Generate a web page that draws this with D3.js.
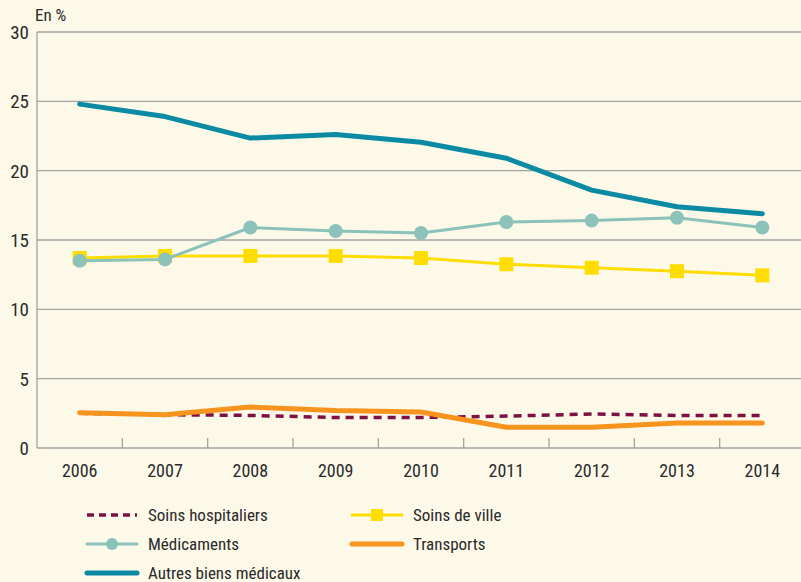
<!DOCTYPE html>
<html>
<head>
  <meta charset="utf-8">
  <script src="https://d3js.org/d3.v7.min.js"></script>
  <style>
    body { margin: 0; background: #fdf9e9; }
    svg { display: block; font-family: "Liberation Sans Narrow", "Roboto Condensed", "Liberation Sans", sans-serif; }
    .grid line { stroke: #a3a3a0; stroke-width: 1.3; }
  </style>
</head>
<body>
<script>
  var years = ["2006", "2007", "2008", "2009", "2010", "2011", "2012", "2013", "2014"];
  var yTicks = [0, 5, 10, 15, 20, 25, 30];

  var soinsHospitaliers = [2.5, 2.4, 2.35, 2.2, 2.2, 2.3, 2.45, 2.35, 2.35];
  var transports = [2.55, 2.4, 2.95, 2.7, 2.6, 1.5, 1.5, 1.8, 1.8];
  var soinsDeVille = [13.7, 13.85, 13.85, 13.85, 13.7, 13.25, 13.0, 12.75, 12.45];
  var medicaments = [13.5, 13.6, 15.9, 15.65, 15.5, 16.3, 16.4, 16.6, 15.9];
  var autresBiens = [24.8, 23.9, 22.35, 22.6, 22.05, 20.9, 18.6, 17.4, 16.9];

  var series = [
    { name: "Soins hospitaliers", values: soinsHospitaliers, color: "#7d1142", width: 3.5, dash: "8,6" },
    { name: "Transports", values: transports, color: "#f7941e", width: 5 },
    { name: "Soins de ville", values: soinsDeVille, color: "#ffdd00", width: 3, marker: "square" },
    { name: "Médicaments", values: medicaments, color: "#8bc2b9", width: 3, marker: "circle" },
    { name: "Autres biens médicaux", values: autresBiens, color: "#0b8aa3", width: 5 }
  ];

  function draw() {
    "use strict";
    var W = 801, H = 582;
    var plotLeft = 37, plotRight = 805, plotTop = 32, plotBottom = 448;
    var textColor = "#2a2a2a";

    var svg = d3.select("body").append("svg")
        .attr("width", W)
        .attr("height", H);

    var x = d3.scaleBand().domain(years).range([plotLeft, plotRight]);
    var y = d3.scaleLinear().domain([0, 30]).range([plotBottom, plotTop]);
    var cx = function (i) { return x(years[i]) + x.bandwidth() / 2; };

    // horizontal grid
    svg.append("g").attr("class", "grid")
      .selectAll("line")
      .data(yTicks)
      .enter().append("line")
        .attr("x1", plotLeft).attr("x2", W)
        .attr("y1", function (d) { return y(d); })
        .attr("y2", function (d) { return y(d); });

    // left axis line
    svg.append("line")
        .attr("x1", plotLeft).attr("x2", plotLeft)
        .attr("y1", plotTop).attr("y2", plotBottom)
        .style("stroke", "#a3a3a0").style("stroke-width", 1.3);

    // y labels
    svg.selectAll("text.ylab")
      .data(yTicks)
      .enter().append("text")
        .attr("class", "ylab")
        .attr("x", 29)
        .attr("y", function (d) { return y(d) + 7; })
        .attr("text-anchor", "end")
        .style("font-size", "19px")
        .style("fill", textColor)
        .text(function (d) { return d; });

    svg.append("text")
        .attr("x", 35).attr("y", 21)
        .style("font-size", "17px")
        .style("fill", textColor)
        .text("En %");

    // x ticks between categories
    svg.selectAll("line.xtick")
      .data(years.slice(1))
      .enter().append("line")
        .attr("class", "xtick")
        .attr("x1", function (d) { return x(d); })
        .attr("x2", function (d) { return x(d); })
        .attr("y1", plotBottom - 10).attr("y2", plotBottom)
        .style("stroke", "#a3a3a0").style("stroke-width", 1.3);

    svg.selectAll("text.xlab")
      .data(years)
      .enter().append("text")
        .attr("class", "xlab")
        .attr("x", function (d, i) { return cx(i); })
        .attr("y", 477)
        .attr("text-anchor", "middle")
        .style("font-size", "18px")
        .style("fill", textColor)
        .text(function (d) { return d; });

    var line = d3.line()
        .x(function (d, i) { return cx(i); })
        .y(function (d) { return y(d); });

    series.forEach(function (s) {
      svg.append("path")
          .attr("d", line(s.values))
          .style("fill", "none")
          .style("stroke", s.color)
          .style("stroke-width", s.width)
          .style("stroke-linecap", s.dash ? "butt" : "round")
          .style("stroke-linejoin", "round")
          .style("stroke-dasharray", s.dash || null);

      if (s.marker === "circle") {
        svg.selectAll(null)
          .data(s.values)
          .enter().append("circle")
            .attr("cx", function (d, i) { return cx(i); })
            .attr("cy", function (d) { return y(d); })
            .attr("r", 7)
            .style("fill", s.color);
      } else if (s.marker === "square") {
        svg.selectAll(null)
          .data(s.values)
          .enter().append("rect")
            .attr("x", function (d, i) { return cx(i) - 7; })
            .attr("y", function (d) { return y(d) - 7; })
            .attr("width", 14).attr("height", 14)
            .style("fill", s.color);
      }
    });

    // legend
    var legendItems = [
      { s: series[0], lx: 87, ly: 515 },
      { s: series[2], lx: 352, ly: 515 },
      { s: series[3], lx: 87, ly: 544 },
      { s: series[1], lx: 352, ly: 544 },
      { s: series[4], lx: 87, ly: 573 }
    ];

    var leg = svg.selectAll("g.leg")
      .data(legendItems)
      .enter().append("g")
        .attr("class", "leg")
        .attr("transform", function (d) { return "translate(" + d.lx + "," + d.ly + ")"; });

    leg.append("line")
        .attr("x1", 0).attr("x2", 50)
        .style("stroke", function (d) { return d.s.color; })
        .style("stroke-width", function (d) { return d.s.width; })
        .style("stroke-dasharray", function (d) { return d.s.dash ? "7,5" : null; })
        .style("stroke-linecap", function (d) { return d.s.dash ? "butt" : "round"; });

    leg.filter(function (d) { return d.s.marker === "circle"; })
      .append("circle")
        .attr("cx", 25).attr("r", 6)
        .style("fill", function (d) { return d.s.color; });

    leg.filter(function (d) { return d.s.marker === "square"; })
      .append("rect")
        .attr("x", 19).attr("y", -6).attr("width", 12).attr("height", 12)
        .style("fill", function (d) { return d.s.color; });

    leg.append("text")
        .attr("x", 61).attr("y", 6)
        .style("font-size", "17px")
        .style("fill", textColor)
        .text(function (d) { return d.s.name; });
  }

  draw();
</script>
</body>
</html>
